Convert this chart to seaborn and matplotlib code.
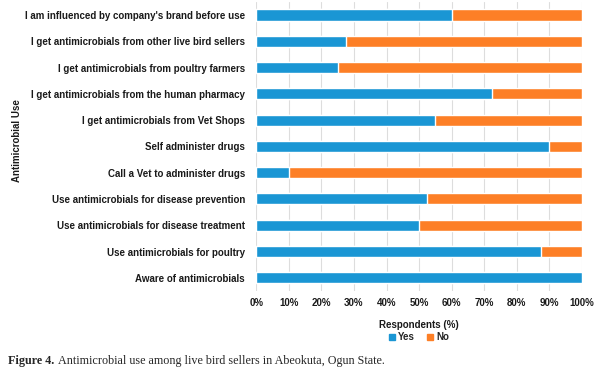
import matplotlib
matplotlib.use('Agg')
import matplotlib.pyplot as plt
import pandas as pd
import seaborn as sns
from matplotlib.patches import Patch

categorias = [
    "I am influenced by company's brand before use",
    "I get antimicrobials from other live bird sellers",
    "I get antimicrobials from poultry farmers",
    "I get antimicrobials from the human pharmacy",
    "I get antimicrobials from Vet Shops",
    "Self administer drugs",
    "Call a Vet to administer drugs",
    "Use antimicrobials for disease prevention",
    "Use antimicrobials for disease treatment",
    "Use antimicrobials for poultry",
    "Aware of antimicrobials",
]
sim = [60.0, 27.5, 25.0, 72.5, 55.0, 90.0, 10.0, 52.5, 50.0, 87.5, 100.0]
nao = [40.0, 72.5, 75.0, 27.5, 45.0, 10.0, 90.0, 47.5, 50.0, 12.5, 0.0]

cor_sim = '#1a96d4'
cor_nao = '#fd7f26'

dados = pd.DataFrame({'uso': categorias, 'sim': sim, 'nao': nao})
dados['total'] = dados['sim'] + dados['nao']

sns.set_style('white')
plt.rcParams['font.family'] = ['Liberation Sans', 'DejaVu Sans']

fig = plt.figure(figsize=(6, 3.73), dpi=100)
ax = fig.add_axes([0.427, 0.22, 0.543, 0.775])

sns.barplot(data=dados, x='total', y='uso', color=cor_nao, width=0.42,
            saturation=1, ax=ax)
sns.barplot(data=dados, x='sim', y='uso', color=cor_sim, width=0.42,
            saturation=1, ax=ax)

ax.set_xlim(0, 100)
ax.set_xticks(range(0, 101, 10))
ax.set_xticklabels([f'{v}%' for v in range(0, 101, 10)])
ax.grid(axis='x', color='#dddddd', linewidth=0.8)
ax.set_axisbelow(True)
for s in ax.spines.values():
    s.set_visible(False)
ax.tick_params(axis='both', length=0, labelsize=7, colors='#1a1a1a')
ax.tick_params(axis='x', pad=5)
ax.tick_params(axis='y', pad=8)
for t in ax.get_yticklabels() + ax.get_xticklabels():
    t.set_fontweight('bold')

ax.set_xlabel('Respondents (%)', fontsize=7, fontweight='bold', color='#1a1a1a', labelpad=9)
ax.set_ylabel('Antimicrobial Use', fontsize=7, fontweight='bold', color='#1a1a1a')
ax.yaxis.set_label_coords(-0.72, 0.52)

ax.legend(handles=[Patch(color=cor_sim, label='Yes'), Patch(color=cor_nao, label='No')],
          loc='center', bbox_to_anchor=(0.5, -0.16), ncol=2, frameon=False,
          handlelength=0.6, handleheight=0.6, handletextpad=0.3,
          columnspacing=1.3, prop={'weight': 'bold', 'size': 7})

y_leg = 1 - 361 / 373
t1 = fig.text(0.013, y_leg, 'Figure 4.', fontsize=8.75, fontweight='bold',
              family='Liberation Serif', va='center')
fig.canvas.draw()
bb = t1.get_window_extent(fig.canvas.get_renderer())
fig.text((bb.x1 + 4) / fig.bbox.width, y_leg,
         'Antimicrobial use among live bird sellers in Abeokuta, Ogun State.',
         fontsize=8.75, family='Liberation Serif', va='center')

fig.savefig('out.png', dpi=100)
